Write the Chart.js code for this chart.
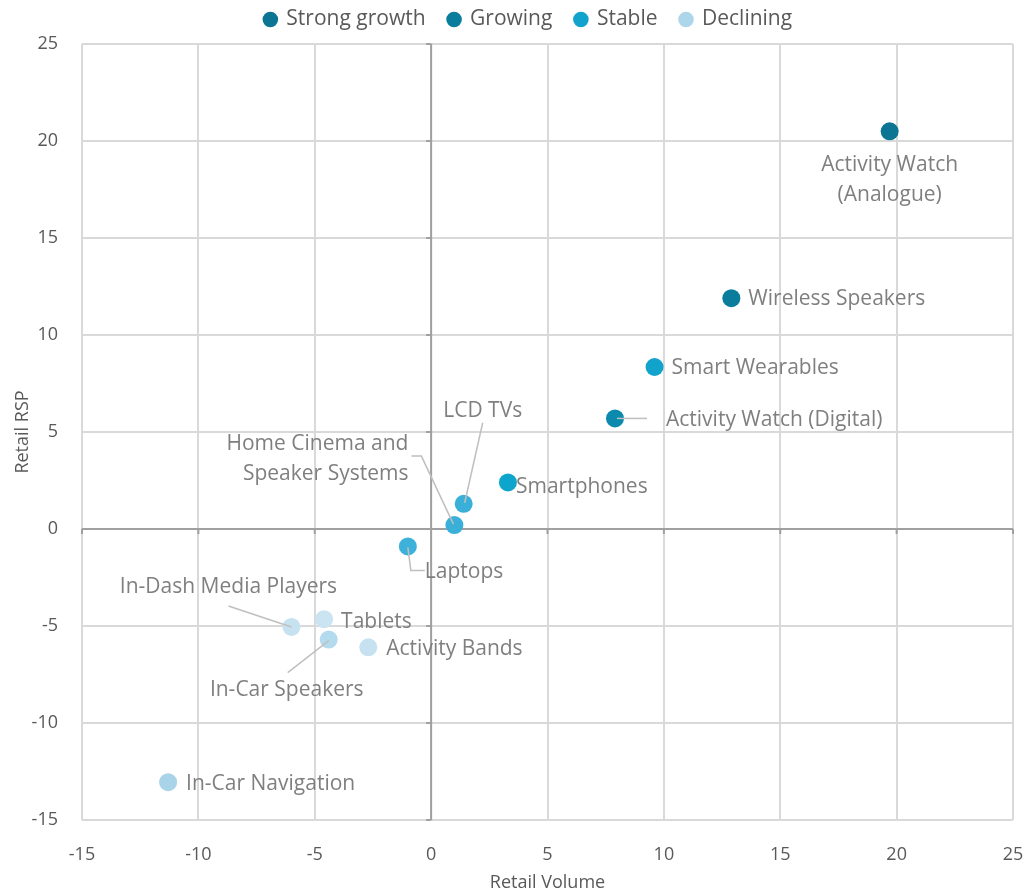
<!DOCTYPE html>
<html>
<head>
<meta charset="utf-8">
<script src="https://cdn.jsdelivr.net/npm/chart.js@4"></script>
<style>
  html, body { margin: 0; padding: 0; background: #fff; }
  #wrap { width: 1026px; height: 894px; position: relative; }
</style>
</head>
<body>
<div id="wrap"><canvas id="chart"></canvas></div>
<script>
const groups = ['Strong growth', 'Growing', 'Stable', 'Declining'];

const names = [
  'Activity Watch (Analogue)', 'Wireless Speakers', 'Activity Watch (Digital)',
  'Smart Wearables', 'Smartphones', 'LCD TVs', 'Home Cinema and Speaker Systems', 'Laptops',
  'In-Dash Media Players', 'Tablets', 'In-Car Speakers', 'Activity Bands', 'In-Car Navigation'
];
const volume = [19.7, 12.9, 7.9, 9.6, 3.3, 1.4, 1.0, -1.0, -6.0, -4.6, -4.4, -2.7, -11.3];
const rsp = [20.5, 11.9, 5.7, 8.35, 2.4, 1.3, 0.2, -0.9, -5.05, -4.65, -5.7, -6.1, -13.05];
const status = [
  'Strong growth', 'Growing', 'Growing',
  'Stable', 'Stable', 'Stable', 'Stable', 'Stable',
  'Declining', 'Declining', 'Declining', 'Declining', 'Declining'
];
const xTicks = [-15, -10, -5, 0, 5, 10, 15, 20, 25];
const yTicks = [-15, -10, -5, 0, 5, 10, 15, 20, 25];

const groupColors = {
  'Strong growth': '#0b7593',
  'Growing': '#0b7d9c',
  'Stable': '#12a3cc',
  'Declining': '#aed6eb'
};

// per point look: colour and where its label sits (pixel offsets from the point)
const labelLayout = {
  'Activity Watch (Analogue)': { color: '#0b7593', lines: ['Activity Watch', '(Analogue)'], align: 'center', dx: 0, dy: 34 },
  'Wireless Speakers': { color: '#0b7d9c', dx: 17, dy: 1 },
  'Activity Watch (Digital)': { color: '#0b8aad', dx: 51, dy: 2, leader: [[2, 0], [32, 0]] },
  'Smart Wearables': { color: '#12a3cc', dx: 17, dy: 1 },
  'Smartphones': { color: '#0ea5cc', dx: 8, dy: 5 },
  'LCD TVs': { color: '#3ab0d9', align: 'center', dx: 19, dy: -93, leader: [[1, -1], [19, -81]] },
  'Home Cinema and Speaker Systems': { color: '#3ab0d9', lines: ['Home Cinema and', 'Speaker Systems'], align: 'right', dx: -46, dy: -81, leader: [[-43, -69], [-33, -69], [-1, -1]] },
  'Laptops': { color: '#3db1da', dx: 17, dy: 26, leader: [[0, 1], [3, 24], [17, 24]] },
  'In-Dash Media Players': { color: '#c6e2f1', align: 'center', dx: -63, dy: -40, leader: [[-63, -21], [0, 0]] },
  'Tablets': { color: '#cbe4f2', dx: 17, dy: 3 },
  'In-Car Speakers': { color: '#b4daee', align: 'center', dx: -42, dy: 50, leader: [[-41, 33], [0, 1]] },
  'Activity Bands': { color: '#c6e2f1', dx: 18, dy: 2 },
  'In-Car Navigation': { color: '#a8d3e8', dx: 18, dy: 2 }
};

const FONT = '"Open Sans", sans-serif';

const datasets = groups.map(g => {
  const idx = names.map((n, i) => i).filter(i => status[i] === g);
  return {
    label: g,
    data: idx.map(i => ({ x: volume[i], y: rsp[i], name: names[i] })),
    backgroundColor: idx.map(i => labelLayout[names[i]].color),
    borderWidth: 0,
    pointRadius: 9,
    pointHoverRadius: 9
  };
});

// fixed legend band height, items nudged so wide item spacing doesn't push them down
const legendHeight = {
  id: 'legendHeight',
  beforeInit(chart) {
    const legend = chart.legend;
    const origFit = legend.fit;
    legend.fit = function () {
      origFit.call(this);
      this.height = 44;
    };
    const origDraw = legend.draw;
    legend.draw = function () {
      chart.ctx.save();
      chart.ctx.translate(22, -14);
      origDraw.call(this);
      chart.ctx.restore();
    };
  }
};

const zeroAxes = {
  id: 'zeroAxes',
  beforeDatasetsDraw(chart) {
    const { ctx, chartArea, scales: { x, y } } = chart;
    const x0 = x.getPixelForValue(0);
    const y0 = y.getPixelForValue(0);
    ctx.save();
    ctx.strokeStyle = '#a0a0a0';
    ctx.lineWidth = 2;
    ctx.beginPath();
    ctx.moveTo(chartArea.left, y0);
    ctx.lineTo(chartArea.right, y0);
    ctx.moveTo(x0, chartArea.top);
    ctx.lineTo(x0, chartArea.bottom);
    xTicks.forEach(v => {
      const px = x.getPixelForValue(v);
      ctx.moveTo(px, y0);
      ctx.lineTo(px, y0 + 5);
    });
    yTicks.forEach(v => {
      const py = y.getPixelForValue(v);
      ctx.moveTo(x0, py);
      ctx.lineTo(x0 - 5, py);
    });
    ctx.stroke();
    ctx.restore();
  }
};

const pointLabels = {
  id: 'pointLabels',
  afterDatasetsDraw(chart) {
    const ctx = chart.ctx;
    ctx.save();
    ctx.font = '21px ' + FONT;
    ctx.textBaseline = 'middle';
    chart.data.datasets.forEach((ds, di) => {
      const meta = chart.getDatasetMeta(di);
      meta.data.forEach((el, i) => {
        const name = ds.data[i].name;
        const lay = labelLayout[name];
        const px = el.x, py = el.y;
        if (lay.leader) {
          ctx.strokeStyle = '#bfbfbf';
          ctx.lineWidth = 1.5;
          ctx.beginPath();
          lay.leader.forEach((p, k) => {
            if (k === 0) ctx.moveTo(px + p[0], py + p[1]);
            else ctx.lineTo(px + p[0], py + p[1]);
          });
          ctx.stroke();
        }
        ctx.fillStyle = '#7f7f7f';
        ctx.textAlign = lay.align || 'left';
        const lines = lay.lines || [name];
        lines.forEach((t, k) => {
          ctx.fillText(t, px + lay.dx, py + lay.dy + k * 29.5);
        });
      });
    });
    ctx.restore();
  }
};

new Chart(document.getElementById('chart'), {
  type: 'scatter',
  data: { datasets },
  options: {
    responsive: true,
    maintainAspectRatio: false,
    animation: false,
    layout: { padding: { left: 0, right: 13, top: 0, bottom: 0 } },
    plugins: {
      tooltip: { enabled: false },
      legend: {
        position: 'top',
        labels: {
          usePointStyle: true,
          pointStyle: 'circle',
          boxWidth: 11,
          boxHeight: 11,
          padding: 23,
          color: '#595959',
          font: { family: FONT, size: 21 },
          generateLabels(chart) {
            return chart.data.datasets.map((ds, i) => ({
              text: ds.label,
              fillStyle: groupColors[ds.label],
              strokeStyle: groupColors[ds.label],
              lineWidth: 0,
              pointStyle: 'circle',
              fontColor: '#595959',
              hidden: false,
              datasetIndex: i
            }));
          }
        }
      }
    },
    scales: {
      x: {
        type: 'linear',
        min: -15,
        max: 25,
        afterFit(scale) {
          scale.height = 74;
          scale.paddingRight = 0;
          scale.paddingLeft = 0;
        },
        afterBuildTicks(scale) { scale.ticks = xTicks.map(v => ({ value: v })); },
        border: { display: false },
        grid: { color: '#d9d9d9', lineWidth: 2, drawTicks: false },
        ticks: { color: '#595959', font: { family: FONT, size: 18 }, padding: 24 },
        title: {
          display: true,
          text: 'Retail Volume',
          color: '#595959',
          font: { family: FONT, size: 18 },
          padding: { top: 0, bottom: 0 }
        }
      },
      y: {
        type: 'linear',
        min: -15,
        max: 25,
        afterFit(scale) { scale.width = 82; },
        afterBuildTicks(scale) { scale.ticks = yTicks.map(v => ({ value: v })); },
        border: { display: false },
        grid: { color: '#d9d9d9', lineWidth: 2, drawTicks: false },
        ticks: { color: '#595959', font: { family: FONT, size: 18 }, padding: 24 },
        title: {
          display: true,
          text: 'Retail RSP',
          color: '#595959',
          font: { family: FONT, size: 18 },
          padding: { top: 12, bottom: 0 }
        }
      }
    }
  },
  plugins: [legendHeight, zeroAxes, pointLabels]
});
</script>
</body>
</html>
